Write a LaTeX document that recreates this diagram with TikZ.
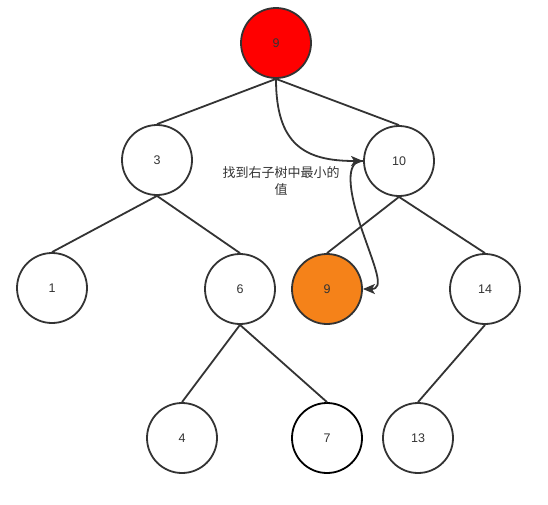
\documentclass[tikz,border=0pt]{standalone}
\usepackage{fontspec}
\setmainfont{Liberation Sans}
\newfontfamily\cjk{Noto Sans CJK SC}
\usetikzlibrary{arrows.meta}
\definecolor{ink}{HTML}{333333}
\definecolor{hot}{HTML}{FF0000}
\definecolor{amber}{RGB}{245,130,25}
\begin{document}
\begin{tikzpicture}[x=1pt,y=-1pt,
  key/.style={circle,draw=ink,line width=1.8pt,minimum size=70pt,inner sep=0pt,
    text=ink,font=\fontsize{12.5}{14}\selectfont},
  link/.style={draw=ink,line width=1.8pt},
  hint/.style={draw=ink,line width=1.8pt,-{Stealth[length=12pt,width=10pt,inset=3pt]}}]
\useasboundingbox (0,0) rectangle (548,504);
% tree nodes
\node[key,fill=hot] (r) at (276,43) {9};
\node[key] (n3) at (157,160) {3};
\node[key] (n10) at (399,161) {10};
\node[key] (n1) at (52,288) {1};
\node[key] (n6) at (240,289) {6};
\node[key,fill=amber] (n9) at (327,289) {9};
\node[key] (n14) at (485,289) {14};
\node[key] (n4) at (182,438) {4};
\node[key,draw=black] (n7) at (327,438) {7};
\node[key] (n13) at (418,438) {13};
% tree edges
\draw[link] (r.south) -- (n3.north);
\draw[link] (r.south) -- (n10.north);
\draw[link] (n3.south) -- (n1.north);
\draw[link] (n3.south) -- (n6.north);
\draw[link] (n10.south) -- (n9.north);
\draw[link] (n10.south) -- (n14.north);
\draw[link] (n6.south) -- (n4.north);
\draw[link] (n6.south) -- (n7.north);
\draw[link] (n14.south) -- (n13.north);
% search path to the minimum of the right subtree
\coordinate (turn) at (362,230);
\draw[hint] (r.south) .. controls (276,145) and (305,161) .. (n10.west);
\draw[hint] (n10.west) .. controls (345,160) and (348,190) .. (turn)
  .. controls (375,268) and (385,289) .. (n9.east);
\node[text=ink,align=center,font=\cjk\fontsize{13}{17}\selectfont] (note) at (281,181)
  {找到右子树中最小的\\值};
\end{tikzpicture}
\end{document}
